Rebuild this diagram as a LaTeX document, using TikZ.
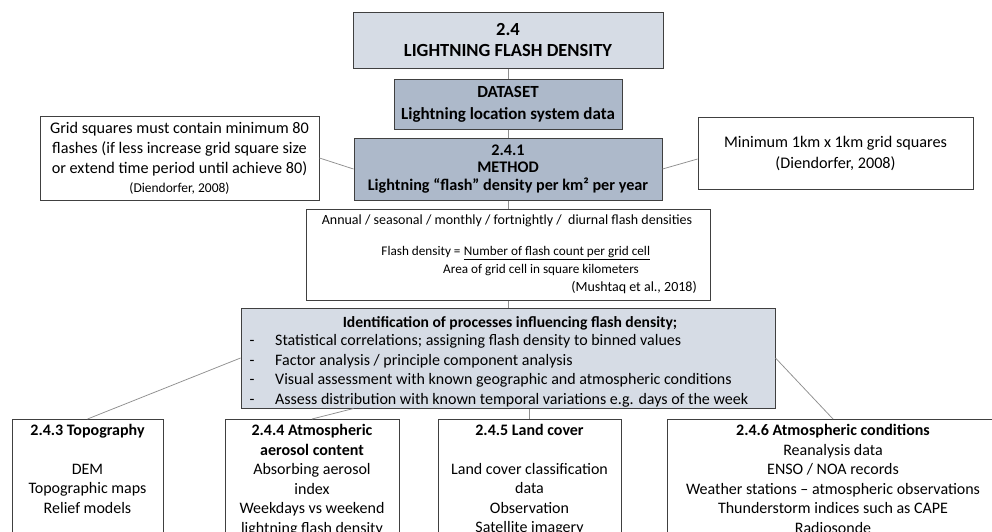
\documentclass[tikz,border=0pt]{standalone}
\usepackage{fontspec}
\setmainfont{Carlito}
\usetikzlibrary{calc}
\definecolor{lightfill}{HTML}{D6DCE5}
\definecolor{darkfill}{HTML}{ADB9CA}
\definecolor{boxline}{HTML}{404040}
\definecolor{connline}{HTML}{8F8F8F}
\newcommand{\fsTitle}{\fontsize{18.5}{21.5}\selectfont\bfseries}
\newcommand{\fsBody}{\fontsize{16.2}{20}\selectfont}
\newcommand{\fsSmall}{\fontsize{14}{17}\selectfont}
\newcommand{\fsFormula}{\fontsize{13.2}{17}\selectfont}
\newcommand{\fsBullet}{\fontsize{16}{19}\selectfont}
\newcommand{\fsBottom}{\fontsize{16}{19.5}\selectfont}
\tikzset{
  box/.style={draw=boxline, line width=1pt, rectangle, inner sep=0pt, align=center, text=black},
  conn/.style={draw=connline, line width=0.75pt},
  txt/.style={inner sep=0pt, align=center, text=black},
}
\begin{document}
\begin{tikzpicture}[x=1pt,y=-1pt]
\useasboundingbox (0,0) rectangle (992,531);
\clip (0,0) rectangle (992,531);

% top chain
\node[box, fill=lightfill, minimum width=310, minimum height=56, font=\fsTitle] (title) at (508,40) {2.4\\LIGHTNING FLASH DENSITY};
\node[box, fill=darkfill, minimum width=228, minimum height=50, font=\fontsize{17}{22}\selectfont\bfseries] (data) at (508,104.5) {DATASET\\Lightning location system data};
\node[box, fill=darkfill, minimum width=308, minimum height=62, font=\fontsize{16.2}{17.8}\selectfont\bfseries] (method) at (508,169) {2.4.1\\METHOD\\Lightning “flash” density per km² per year};

% side notes
\node[box, fill=white, minimum width=279, minimum height=84, font=\fsBody] (gridnote) at (179.5,158) {Grid squares must contain minimum 80\\flashes (if less increase grid square size\\or extend time period until achieve 80)\\[-1pt]{\fontsize{13.5}{17}\selectfont (Diendorfer, 2008)}};
\node[box, fill=white, minimum width=275, minimum height=72, font=\fontsize{16.2}{21}\selectfont] (sizenote) at (835.5,153) {Minimum 1km x 1km grid squares\\(Diendorfer, 2008)};

% flash density box
\node[box, fill=white, minimum width=404, minimum height=91] (fbox) at (508,254.5) {};
\node[txt, font=\fsSmall] (annual) at (507,220.5) {Annual / seasonal / monthly / fortnightly /\ \ diurnal flash densities};
\node[txt, font=\fsFormula] (num) at (557,253) {\underline{Number of flash count per grid cell}};
\node[txt, font=\fsFormula, anchor=base east] (fdlabel) at (num.base west) {Flash density =\ };
\node[txt, font=\fsFormula] (den) at (541,270) {Area of grid cell in square kilometers};
\node[txt, font=\fsSmall, anchor=east] (mush) at (697,287) {(Mushtaq et al., 2018)};

% identification box
\node[box, fill=lightfill, minimum width=534, minimum height=100] (ident) at (508,358) {};
\node[txt, font=\fontsize{15.6}{19}\selectfont\bfseries] (identT) at (510,323) {Identification of processes influencing flash density;};
\foreach \yy/\tt [count=\i] in {345.5/{Statistical correlations; assigning flash density to binned values},
  365/{Factor analysis / principle component analysis},
  384.5/{Visual assessment with known geographic and atmospheric conditions},
  404/{Assess distribution with known temporal variations e.g. days of the week}}{
  \node[txt, font=\fsBullet, anchor=base] (dash\i) at (252,\yy) {-};
  \node[txt, font=\fsBullet, anchor=base west] (bul\i) at (275,\yy) {\tt};
}

% bottom boxes
\node[box, fill=white, minimum width=151, minimum height=140, anchor=north] (topo) at (87.5,419) {};
\node[txt, font=\fsBottom, anchor=north] (topoT) at (87.5,424.5) {\textbf{2.4.3 Topography}\\[19pt]DEM\\Topographic maps\\Relief models};

\node[box, fill=white, minimum width=174, minimum height=140, anchor=north] (aero) at (312,419) {};
\node[txt, font=\fsBottom, anchor=north] (aeroT) at (312,424.5) {\textbf{2.4.4 Atmospheric}\\\textbf{aerosol content}\\Absorbing aerosol\\index\\Weekdays vs weekend\\lightning flash density};

\node[box, fill=white, minimum width=183, minimum height=140, anchor=north] (land) at (529.5,419) {};
\node[txt, font=\fsBottom, anchor=north] (landT) at (529.5,424.5) {\textbf{2.4.5 Land cover}\\[19pt]Land cover classification\\data\\Observation\\Satellite imagery};

\node[box, fill=white, minimum width=332, minimum height=140, anchor=north] (atmos) at (833,419) {};
\node[txt, font=\fsBottom, anchor=north] (atmosT) at (833,424.5) {\textbf{2.4.6 Atmospheric conditions}\\Reanalysis data\\ENSO / NOA records\\Weather stations – atmospheric observations\\Thunderstorm indices such as CAPE\\Radiosonde};

% connectors
\draw[conn] (title.south) -- (data.north);
\draw[conn] (data.south) -- (method.north);
\draw[conn] (method.south) -- (fbox.north);
\draw[conn] (fbox.south) -- (ident.north);
\draw[conn] (gridnote.east) -- (method.west);
\draw[conn] (method.east) -- ([yshift=-6pt]sizenote.west);
\draw[conn] (ident.west) -- (topo.north);
\draw[conn] ([xshift=113pt]ident.south west) -- (aero.north);
\draw[conn] (land.north |- ident.south) -- (land.north);
\draw[conn] (ident.east) -- (atmos.north);
\end{tikzpicture}
\end{document}
